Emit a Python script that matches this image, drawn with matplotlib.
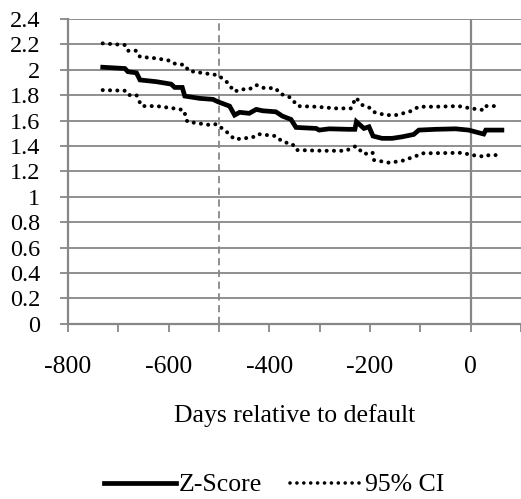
import matplotlib
matplotlib.use("Agg")
import matplotlib.pyplot as plt
from matplotlib.lines import Line2D

plt.rcParams["font.family"] = ["Liberation Serif", "DejaVu Serif"]

# Z-score path (days relative to default, value)
z_days = [-731, -687, -681, -664, -657, -624, -595, -588, -573, -568, -539, -512,
          -502, -479, -469, -459, -440, -426, -413, -387, -374, -357, -347, -307,
          -301, -281, -242, -230, -227, -212, -202, -194, -176, -156, -136, -113,
          -103, -70, -30, -4, 16, 26, 30, 62]
z_vals = [2.02, 2.01, 1.985, 1.976, 1.92, 1.906, 1.887, 1.861, 1.861, 1.793, 1.775, 1.767,
          1.748, 1.714, 1.643, 1.665, 1.657, 1.688, 1.677, 1.669, 1.635, 1.609, 1.546, 1.538,
          1.525, 1.535, 1.531, 1.531, 1.591, 1.538, 1.551, 1.478, 1.46, 1.46, 1.472, 1.491,
          1.525, 1.531, 1.535, 1.525, 1.504, 1.494, 1.525, 1.525]

# Upper 95% confidence bound
up_days = [-731, -687, -681, -664, -657, -624, -597, -590, -567, -561, -518, -502,
           -485, -469, -459, -440, -426, -413, -387, -380, -357, -344, -307, -268,
           -238, -228, -215, -202, -194, -169, -149, -122, -103, -70, -24, 0, 26, 30, 49]
up_vals = [2.208, 2.195, 2.15, 2.15, 2.102, 2.09, 2.071, 2.05, 2.037, 1.992, 1.966, 1.958,
           1.906, 1.827, 1.846, 1.846, 1.88, 1.858, 1.854, 1.814, 1.78, 1.714, 1.709, 1.696,
           1.696, 1.78, 1.722, 1.704, 1.669, 1.643, 1.643, 1.669, 1.709, 1.709, 1.714, 1.696,
           1.683, 1.714, 1.714]

# Lower 95% confidence bound
lo_days = [-731, -687, -681, -664, -654, -624, -590, -570, -563, -518, -505, -485,
           -469, -433, -423, -387, -374, -354, -347, -294, -248, -228, -212, -195,
           -192, -162, -136, -109, -96, -17, 3, 29, 36, 56]
lo_vals = [1.84, 1.835, 1.801, 1.801, 1.714, 1.714, 1.696, 1.683, 1.591, 1.565, 1.572, 1.512,
           1.452, 1.468, 1.494, 1.478, 1.433, 1.415, 1.368, 1.362, 1.362, 1.399, 1.336, 1.35,
           1.289, 1.268, 1.283, 1.32, 1.342, 1.346, 1.328, 1.315, 1.328, 1.328]

x_ticks = list(range(-800, 101, 100))
x_labels = ["-800", "", "-600", "", "-400", "", "-200", "", "0", ""]
y_ticks = [round(0.2 * i, 1) for i in range(13)]
y_labels = ["0", "0.2", "0.4", "0.6", "0.8", "1", "1.2", "1.4", "1.6", "1.8", "2", "2.2", "2.4"]

GRID = "#878787"
FS = 18.5

fig = plt.figure(figsize=(5.21, 4.99), dpi=100)
ax = fig.add_axes([68 / 521, 1 - 323.7 / 499, (521 - 68) / 521, (323.7 - 19) / 499])

ax.set_xlim(-800, 100)
ax.set_ylim(0, 2.4)

for yv in y_ticks[1:]:
    ax.axhline(yv, color=GRID, lw=1.3, zorder=1)
ax.axvline(0, color=GRID, lw=1.6, zorder=1)
ax.axvline(-500, color=GRID, lw=1.3, ls=(0, (4, 2.5)), zorder=1)

dot = (0, (0.01, 1.8))
ax.plot(up_days, up_vals, color="black", lw=2.9, ls=dot, dash_capstyle="round", zorder=3)
ax.plot(lo_days, lo_vals, color="black", lw=2.9, ls=dot, dash_capstyle="round", zorder=3)
ax.plot(z_days, z_vals, color="black", lw=3.4, solid_joinstyle="miter", zorder=4)

for side in ("top", "right"):
    ax.spines[side].set_visible(False)
for side in ("left", "bottom"):
    ax.spines[side].set_color(GRID)
    ax.spines[side].set_linewidth(1.6)

ax.set_xticks(x_ticks)
ax.set_xticklabels(x_labels)
ax.set_yticks(y_ticks)
ax.set_yticklabels(y_labels)
ax.tick_params(axis="x", direction="out", length=6, width=1.3, color=GRID,
               labelsize=FS, pad=17)
ax.tick_params(axis="y", direction="out", length=6, width=1.3, color=GRID,
               labelsize=FS - 1, pad=14)

ax.set_xlabel("Days relative to default", fontsize=FS, labelpad=19)

handles = [Line2D([], [], color="black", lw=3.4),
           Line2D([], [], color="black", lw=2.6, ls=(0, (0.01, 1.9)), dash_capstyle="round")]
fig.legend(handles, ["Z-Score", "95% CI"], loc="center", ncol=2,
           bbox_to_anchor=(274 / 521, 1 - 485 / 499), frameon=False, fontsize=FS,
           handlelength=2.8, handletextpad=0.1, columnspacing=1.1)

fig.savefig("out.png", dpi=100)
